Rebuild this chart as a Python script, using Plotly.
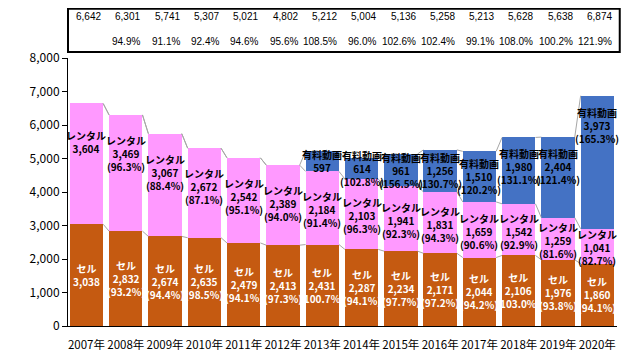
import plotly.graph_objects as go

years = ["2007年", "2008年", "2009年", "2010年", "2011年", "2012年", "2013年",
         "2014年", "2015年", "2016年", "2017年", "2018年", "2019年", "2020年"]
totals = [6642, 6301, 5741, 5307, 5021, 4802, 5212, 5004, 5136, 5258, 5213, 5628, 5638, 6874]
total_yoy = ["", "94.9%", "91.1%", "92.4%", "94.6%", "95.6%", "108.5%", "96.0%",
             "102.6%", "102.4%", "99.1%", "108.0%", "100.2%", "121.9%"]
sell = [3038, 2832, 2674, 2635, 2479, 2413, 2431, 2287, 2234, 2171, 2044, 2106, 1976, 1860]
sell_pct = ["", "(93.2%)", "(94.4%)", "(98.5%)", "(94.1%)", "(97.3%)", "(100.7%)", "(94.1%)",
            "(97.7%)", "(97.2%)", "(94.2%)", "103.0%", "(93.8%)", "(94.1%)"]
rental = [3604, 3469, 3067, 2672, 2542, 2389, 2184, 2103, 1941, 1831, 1659, 1542, 1259, 1041]
rental_pct = ["", "(96.3%)", "(88.4%)", "(87.1%)", "(95.1%)", "(94.0%)", "(91.4%)", "(96.3%)",
              "(92.3%)", "(94.3%)", "(90.6%)", "(92.9%)", "(81.6%)", "(82.7%)"]
paid = [0, 0, 0, 0, 0, 0, 597, 614, 961, 1256, 1510, 1980, 2404, 3973]
paid_pct = ["", "", "", "", "", "", "", "(102.8%)", "(156.5%)", "(130.7%)", "(120.2%)",
            "(131.1%)", "(121.4%)", "(165.3%)"]
y_ticks = [0, 1000, 2000, 3000, 4000, 5000, 6000, 7000, 8000]

C_SELL = "#C55A11"
C_RENT = "#FF99FF"
C_PAID = "#4472C4"
W = 0.85
LFONT = "Noto Sans CJK JP"

xs = list(range(len(years)))
fig = go.Figure()
fig.add_trace(go.Bar(x=xs, y=sell, marker=dict(color=C_SELL, line=dict(width=0)), width=W, name="セル"))
fig.add_trace(go.Bar(x=xs, y=rental, marker=dict(color=C_RENT, line=dict(width=0)), width=W, name="レンタル"))
fig.add_trace(go.Bar(x=xs, y=paid, marker=dict(color=C_PAID, line=dict(width=0)), width=W, name="有料動画"))

# connector lines between neighbouring bars at each cumulative level
lev1 = sell
lev2 = [s + r for s, r in zip(sell, rental)]
lev3 = [s + r + p for s, r, p in zip(sell, rental, paid)]
cx, cy = [], []
for lev in (lev1, lev2, lev3):
    for i in range(len(xs) - 1):
        cx += [xs[i] + W / 2, xs[i + 1] - W / 2, None]
        cy += [lev[i], lev[i + 1], None]
fig.add_trace(go.Scatter(x=cx, y=cy, mode="lines", line=dict(color="#A6A6A6", width=1),
                         hoverinfo="skip", showlegend=False))

ann = []
for i in xs:
    t = "セル<br>" + f"{sell[i]:,}" + ("<br>" + sell_pct[i] if sell_pct[i] else "")
    ann.append(dict(x=i, y=sell[i] / 2, xref="x", yref="y", text="<b>" + t + "</b>",
                    showarrow=False, font=dict(family=LFONT, size=10, color="white")))
    t = "レンタル<br>" + f"{rental[i]:,}" + ("<br>" + rental_pct[i] if rental_pct[i] else "")
    ry = lev2[i] - min(rental[i] * 0.5 + 50, 1150)
    ann.append(dict(x=i, y=ry, xref="x", yref="y", text="<b>" + t + "</b>",
                    showarrow=False, font=dict(family=LFONT, size=10, color="black")))
    if paid[i] > 0:
        t = "有料動画<br>" + f"{paid[i]:,}" + ("<br>" + paid_pct[i] if paid_pct[i] else "")
        py = lev3[i] - min(paid[i] * 0.5, 880)
        ann.append(dict(x=i, y=py, xref="x", yref="y", text="<b>" + t + "</b>",
                        showarrow=False, font=dict(family=LFONT, size=10, color="black")))
    ann.append(dict(x=i + W / 2, y=1.153, xref="x", yref="paper", text=f"{totals[i]:,}",
                    xanchor="right", yanchor="middle", showarrow=False,
                    font=dict(family="Liberation Sans", size=10, color="black")))
    if total_yoy[i]:
        ann.append(dict(x=i + W / 2, y=1.06, xref="x", yref="paper", text=total_yoy[i],
                        xanchor="right", yanchor="middle", showarrow=False,
                        font=dict(family="Liberation Sans", size=10, color="black")))

fig.update_layout(
    width=640, height=356,
    margin=dict(l=60, r=31, t=50, b=38),
    paper_bgcolor="white", plot_bgcolor="white",
    barmode="stack", showlegend=False,
    annotations=ann,
    shapes=[dict(type="rect", xref="paper", yref="paper", x0=0, x1=1.005, y0=1.022, y1=1.184,
                 line=dict(color="black", width=2), fillcolor="rgba(0,0,0,0)")],
    xaxis=dict(range=[-0.47, 13.5], tickmode="array", tickvals=xs, ticktext=years,
               showline=True, linecolor="black", linewidth=1, showgrid=False, zeroline=False,
               ticks="", tickangle=0, automargin=False, ticklabelstandoff=8,
               tickfont=dict(family=LFONT, size=11.5, color="black")),
    yaxis=dict(range=[0, 8000], tickmode="array", tickvals=y_ticks,
               ticktext=[f"{v:,}" for v in y_ticks],
               showline=True, linecolor="black", linewidth=1, showgrid=False, zeroline=False,
               ticks="outside", ticklen=5, tickcolor="black", automargin=False,
               tickfont=dict(family=LFONT, size=12, color="black")),
)
fig.write_html("out.html")
